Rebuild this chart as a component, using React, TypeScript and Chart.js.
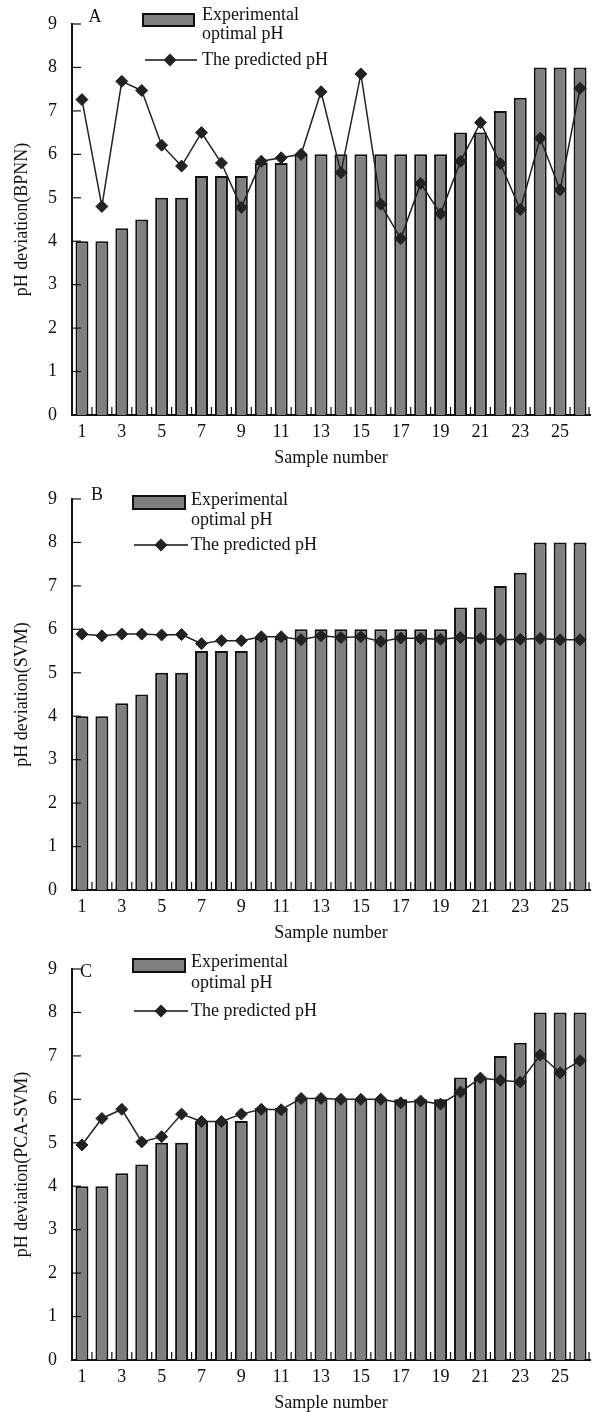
import { useEffect, useRef } from "react";
import { Chart, registerables } from "chart.js";

Chart.register(...registerables);

const sampleNumbers = ["1", "2", "3", "4", "5", "6", "7", "8", "9", "10", "11", "12", "13", "14", "15", "16", "17", "18", "19", "20", "21", "22", "23", "24", "25", "26"];
const experimentalPH = [4.0, 4.0, 4.3, 4.5, 5.0, 5.0, 5.5, 5.5, 5.5, 5.8, 5.8, 6.0, 6.0, 6.0, 6.0, 6.0, 6.0, 6.0, 6.0, 6.5, 6.5, 7.0, 7.3, 8.0, 8.0, 8.0];
const predictedBPNN = [7.26, 4.8, 7.68, 7.47, 6.21, 5.73, 6.5, 5.8, 4.78, 5.84, 5.92, 6.0, 7.44, 5.58, 7.85, 4.85, 4.06, 5.33, 4.63, 5.84, 6.73, 5.79, 4.73, 6.37, 5.18, 7.52];
const predictedSVM = [5.89, 5.85, 5.89, 5.89, 5.87, 5.88, 5.67, 5.74, 5.74, 5.83, 5.83, 5.76, 5.85, 5.81, 5.83, 5.72, 5.8, 5.79, 5.77, 5.81, 5.79, 5.76, 5.77, 5.79, 5.76, 5.76];
const predictedPCASVM = [4.95, 5.56, 5.77, 5.02, 5.14, 5.66, 5.49, 5.49, 5.66, 5.77, 5.76, 6.02, 6.02, 6.0, 6.0, 6.0, 5.92, 5.96, 5.89, 6.17, 6.49, 6.44, 6.4, 7.02, 6.61, 6.89];
const legendBarLines = ["Experimental", "optimal pH"];
const legendLineLabel = "The predicted pH";
const xTitle = "Sample number";

const FONT = '"Liberation Serif", "Times New Roman", serif';
const INK = "#111111";
const BAR_FILL = "#7f7f7f";

type PanelCfg = {
  top: number;
  height: number;
  letter: string;
  letterPos: [number, number];
  yTitle: string;
  predicted: number[];
  box: [number, number, number, number];
  textX: number;
  textYs: [number, number, number];
  line: [number, number];
  diamondX: number;
};

const panels: PanelCfg[] = [
  {
    top: 0, height: 475, letter: "A", letterPos: [95, 17], yTitle: "pH deviation(BPNN)", predicted: predictedBPNN,
    box: [142, 13, 195, 27], textX: 202, textYs: [15, 34, 60], line: [145, 197], diamondX: 170,
  },
  {
    top: 475, height: 470, letter: "B", letterPos: [97, 20], yTitle: "pH deviation(SVM)", predicted: predictedSVM,
    box: [132, 20, 186, 35], textX: 191, textYs: [25, 45, 70], line: [134, 188], diamondX: 161,
  },
  {
    top: 945, height: 467, letter: "C", letterPos: [86, 27], yTitle: "pH deviation(PCA-SVM)", predicted: predictedPCASVM,
    box: [132, 13, 186, 28], textX: 191, textYs: [17, 38, 66], line: [134, 188], diamondX: 161,
  },
];

function Panel({ cfg }: { cfg: PanelCfg }) {
  const ref = useRef<HTMLCanvasElement | null>(null);
  useEffect(() => {
    if (!ref.current) return;
    const xAxisH = cfg.height - 415;
    const decor = {
      id: "decor",
      afterDatasetsDraw(chart: any) {
        const { ctx, chartArea } = chart;
        const xs = chart.scales.x;
        const ys = chart.scales.y;
        ctx.save();
        ctx.strokeStyle = INK;
        ctx.lineWidth = 1.2;
        // inward ticks on x axis at category boundaries
        const n = sampleNumbers.length;
        for (let k = 1; k <= n; k++) {
          const px = (xs.getPixelForValue(k - 1) + (k < n ? xs.getPixelForValue(k) : chartArea.right + (xs.getPixelForValue(k - 1) - chartArea.right))) / 2;
          const x = k < n ? px : chartArea.right - 1;
          ctx.beginPath();
          ctx.moveTo(x, chartArea.bottom);
          ctx.lineTo(x, chartArea.bottom - 8);
          ctx.stroke();
        }
        // inward ticks on y axis
        for (let v = 1; v <= 9; v++) {
          const y = ys.getPixelForValue(v);
          ctx.beginPath();
          ctx.moveTo(chartArea.left, y);
          ctx.lineTo(chartArea.left + 9, y);
          ctx.stroke();
        }
        ctx.restore();
      },
      afterDraw(chart: any) {
        const { ctx } = chart;
        ctx.save();
        const [bx1, by1, bx2, by2] = cfg.box;
        ctx.fillStyle = BAR_FILL;
        ctx.fillRect(bx1, by1, bx2 - bx1, by2 - by1);
        ctx.strokeStyle = INK;
        ctx.lineWidth = 2;
        ctx.strokeRect(bx1 + 1, by1 + 1, bx2 - bx1 - 2, by2 - by1 - 2);
        ctx.font = `18px ${FONT}`;
        ctx.fillStyle = INK;
        ctx.textBaseline = "middle";
        ctx.textAlign = "left";
        ctx.fillText(legendBarLines[0], cfg.textX, cfg.textYs[0]);
        ctx.fillText(legendBarLines[1], cfg.textX, cfg.textYs[1]);
        ctx.fillText(legendLineLabel, cfg.textX, cfg.textYs[2]);
        ctx.lineWidth = 1.5;
        ctx.beginPath();
        ctx.moveTo(cfg.line[0], cfg.textYs[2]);
        ctx.lineTo(cfg.line[1], cfg.textYs[2]);
        ctx.stroke();
        const r = 6.5;
        const dx = cfg.diamondX;
        const dy = cfg.textYs[2];
        ctx.fillStyle = "#222";
        ctx.beginPath();
        ctx.moveTo(dx - r, dy);
        ctx.lineTo(dx, dy - r);
        ctx.lineTo(dx + r, dy);
        ctx.lineTo(dx, dy + r);
        ctx.closePath();
        ctx.fill();
        ctx.fillStyle = INK;
        ctx.textAlign = "center";
        ctx.fillText(cfg.letter, cfg.letterPos[0], cfg.letterPos[1]);
        ctx.restore();
      },
    };
    const chart = new Chart(ref.current, {
      type: "bar",
      data: {
        labels: sampleNumbers,
        datasets: [
          {
            type: "line",
            label: legendLineLabel,
            data: cfg.predicted,
            borderColor: "#222",
            borderWidth: 1.5,
            pointStyle: "rectRot",
            pointRadius: 6,
            pointBackgroundColor: "#222",
            pointBorderColor: "#222",
            pointBorderWidth: 1,
            tension: 0,
            order: 0,
          } as any,
          {
            type: "bar",
            label: legendBarLines.join(" "),
            data: experimentalPH,
            backgroundColor: BAR_FILL,
            borderColor: INK,
            borderWidth: 2,
            barPercentage: 0.65,
            categoryPercentage: 1,
            order: 1,
          },
        ],
      },
      options: {
        responsive: false,
        animation: false,
        devicePixelRatio: 1,
        layout: { padding: { top: 10, right: 8, left: 0, bottom: 0 } },
        plugins: { legend: { display: false }, tooltip: { enabled: false } },
        scales: {
          x: {
            offset: true,
            grid: { display: false, drawTicks: false },
            border: { display: true, color: INK, width: 2 },
            ticks: {
              autoSkip: false,
              maxRotation: 0,
              padding: 8,
              color: INK,
              font: { family: FONT, size: 18, lineHeight: 1 },
              callback: (_v: any, i: number) => (i % 2 === 0 ? sampleNumbers[i] : ""),
            },
            title: {
              display: true,
              text: xTitle,
              color: INK,
              font: { family: FONT, size: 18, lineHeight: 1 },
              padding: { top: 0, bottom: Math.max(0, xAxisH - 43 - 9) },
            },
            afterFit: (s: any) => { s.height = xAxisH; },
          },
          y: {
            min: 0,
            max: 9,
            grid: { display: false, drawTicks: false },
            border: { display: true, color: INK, width: 2 },
            ticks: {
              stepSize: 1,
              padding: 15,
              color: INK,
              font: { family: FONT, size: 18, lineHeight: 1 },
            },
            title: {
              display: true,
              text: cfg.yTitle,
              color: INK,
              font: { family: FONT, size: 18, lineHeight: 1 },
              padding: { top: 13, bottom: 0 },
            },
            afterFit: (s: any) => { s.width = 72; },
          },
        },
      },
      plugins: [decor],
    });
    return () => chart.destroy();
  }, [cfg]);
  return (
    <canvas
      ref={ref}
      width={598}
      height={cfg.height}
      style={{ position: "absolute", left: 0, top: cfg.top, width: 598, height: cfg.height, display: "block" }}
    />
  );
}

export default function App() {
  return (
    <div style={{ position: "absolute", left: 0, top: 0, width: 598, height: 1412, background: "#fff" }}>
      {panels.map((p) => (
        <Panel key={p.letter} cfg={p} />
      ))}
    </div>
  );
}
